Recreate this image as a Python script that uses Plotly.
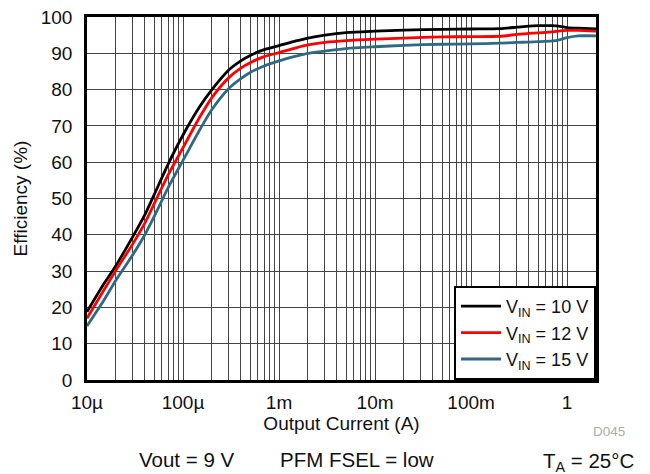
import plotly.graph_objects as go

# Output current (A)
current = [1e-5, 1.5e-5, 2e-5, 3e-5, 4e-5, 5e-5, 7e-5, 1e-4, 1.5e-4, 2e-4, 3e-4, 4e-4, 5e-4, 7e-4,
           1e-3, 1.5e-3, 2e-3, 3e-3, 5e-3, 1e-2, 2e-2, 5e-2, 0.1, 0.2, 0.3, 0.4, 0.5, 0.7, 0.85,
           1.0, 1.3, 2.0]
eff_10v = [18.8, 26.5, 31.5, 39.5, 45.5, 51.0, 59.5, 67.5, 75.4, 80.0, 85.4, 87.9, 89.4, 91.0,
           92.1, 93.4, 94.2, 95.0, 95.7, 96.1, 96.4, 96.6, 96.7, 96.8, 97.2, 97.5, 97.6, 97.6, 97.4,
           97.1, 96.9, 96.7]
eff_12v = [17.0, 24.8, 30.2, 37.5, 43.2, 48.5, 56.5, 64.0, 72.5, 77.8, 83.3, 85.9, 87.4, 89.1,
           90.2, 91.5, 92.3, 93.0, 93.5, 93.9, 94.2, 94.5, 94.6, 94.7, 95.2, 95.5, 95.6, 95.9, 96.2,
           96.3, 96.3, 96.1]
eff_15v = [14.9, 22.0, 27.5, 34.5, 40.0, 45.0, 53.0, 60.5, 69.0, 74.5, 80.3, 83.0, 84.7, 86.5,
           87.9, 89.2, 90.0, 90.6, 91.3, 91.8, 92.2, 92.5, 92.6, 92.8, 93.0, 93.1, 93.2, 93.4, 93.8,
           94.3, 94.8, 94.8]

series_names = ["V<sub>IN</sub> = 10 V", "V<sub>IN</sub> = 12 V", "V<sub>IN</sub> = 15 V"]
series_colors = ["#000000", "#ff0000", "#2e6a84"]

major_vals = [1e-5, 1e-4, 1e-3, 1e-2, 1e-1, 1]
major_text = ["10µ", "100µ", "1m", "10m", "100m", "1"]
y_ticks = list(range(0, 101, 10))

FONT = "Liberation Sans, Arial, Helvetica, sans-serif"

# tick values including minor gridlines (2..9 per decade)
tickvals, ticktext = [], []
for d, lbl in zip(major_vals, major_text):
    tickvals.append(d)
    ticktext.append(lbl)
    if d < 1:
        for m in range(2, 10):
            tickvals.append(d * m)
            ticktext.append("")
tickvals.append(2.0)
ticktext.append("")

fig = go.Figure()
for ys, name, col in zip([eff_10v, eff_12v, eff_15v], series_names, series_colors):
    fig.add_trace(go.Scatter(x=current, y=ys, mode="lines", name=name,
                             line=dict(color=col, width=2.8, shape="spline", smoothing=0.7)))

# the page body has an 8px margin, so the figure is sized to fit the 650x474 window
fig.update_layout(
    width=642, height=466,
    margin=dict(l=79, r=54, t=9, b=94),
    paper_bgcolor="white", plot_bgcolor="white",
    font=dict(family=FONT, size=19, color="#111"),
    showlegend=True,
    legend=dict(x=1, y=0, xanchor="right", yanchor="bottom",
                bgcolor="white", bordercolor="black", borderwidth=2,
                font=dict(family=FONT, size=18, color="#111"),
                tracegroupgap=0, itemwidth=40),
    xaxis=dict(type="log", range=[-5, 0.301], automargin=False,
               tickvals=tickvals, ticktext=ticktext,
               showgrid=True, gridcolor="#444444", gridwidth=1.2,
               showline=True, linecolor="black", linewidth=2.5, mirror=True,
               ticks="", zeroline=False, ticklabelstandoff=3,
               ticklabeloverflow="allow",
               tickfont=dict(family=FONT, size=19),
               title=dict(text="Output Current (A)", standoff=1,
                          font=dict(family=FONT, size=19))),
    yaxis=dict(range=[0, 100], tickvals=y_ticks, automargin=False,
               showgrid=True, gridcolor="#444444", gridwidth=1.2,
               showline=True, linecolor="black", linewidth=2.5, mirror=True,
               ticks="", zeroline=False, ticklabelstandoff=8,
               ticklabeloverflow="allow",
               tickfont=dict(family=FONT, size=19),
               title=dict(text="Efficiency (%)", standoff=9,
                          font=dict(family=FONT, size=19))),
)

annots = [
    dict(text="Vout = 9 V", x=0.196, y=-0.22),
    dict(text="PFM FSEL = low", x=0.530, y=-0.22),
    dict(text="T<sub>A</sub> = 25°C", x=0.985, y=-0.225),
]
for a in annots:
    fig.add_annotation(text=a["text"], x=a["x"], y=a["y"], xref="paper", yref="paper",
                       showarrow=False, xanchor="center", yanchor="middle",
                       font=dict(family=FONT, size=20.5, color="#111"))
fig.add_annotation(text="D045", x=1.025, y=-0.143, xref="paper", yref="paper",
                   showarrow=False, xanchor="center", yanchor="middle",
                   font=dict(family=FONT, size=13.5, color="#acacac"))

fig.write_html("out.html")
